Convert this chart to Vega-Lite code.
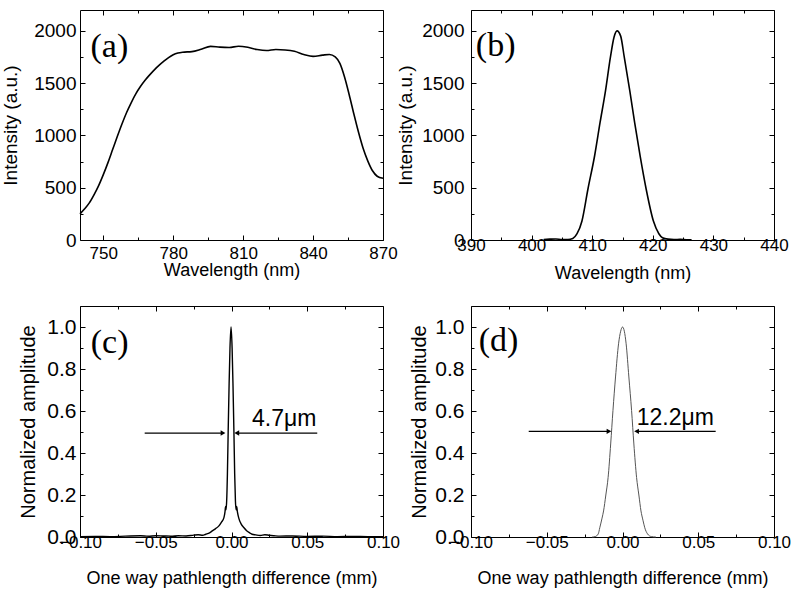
{
  "$schema": "https://vega.github.io/schema/vega-lite/v6.json",
  "padding": {"left": 0, "top": 9, "right": 5, "bottom": 0},
  "background": "white",
  "columns": 2,
  "spacing": {"row": 66, "column": 88},
  "bounds": "flush",
  "datasets": {
    "a": [
      {"x": 740, "y": 250}, {"x": 742, "y": 298}, {"x": 744, "y": 355}, {"x": 746, "y": 432},
      {"x": 748, "y": 520}, {"x": 750, "y": 625}, {"x": 752, "y": 740}, {"x": 754, "y": 865},
      {"x": 756, "y": 990}, {"x": 758, "y": 1110}, {"x": 760, "y": 1220}, {"x": 762, "y": 1315},
      {"x": 764, "y": 1400}, {"x": 766, "y": 1470}, {"x": 768, "y": 1530}, {"x": 770, "y": 1582},
      {"x": 772, "y": 1630}, {"x": 774, "y": 1672}, {"x": 776, "y": 1710}, {"x": 778, "y": 1745},
      {"x": 780, "y": 1772}, {"x": 782, "y": 1788}, {"x": 784, "y": 1796}, {"x": 788, "y": 1802},
      {"x": 792, "y": 1825}, {"x": 796, "y": 1852}, {"x": 800, "y": 1845}, {"x": 804, "y": 1842},
      {"x": 808, "y": 1853}, {"x": 812, "y": 1843}, {"x": 816, "y": 1822}, {"x": 820, "y": 1812},
      {"x": 824, "y": 1822}, {"x": 828, "y": 1818}, {"x": 832, "y": 1805}, {"x": 836, "y": 1775},
      {"x": 840, "y": 1756}, {"x": 844, "y": 1768}, {"x": 847, "y": 1775}, {"x": 849.5, "y": 1752},
      {"x": 851.5, "y": 1690}, {"x": 853.5, "y": 1560}, {"x": 855.5, "y": 1390}, {"x": 857.5, "y": 1205},
      {"x": 859.5, "y": 1030}, {"x": 861.5, "y": 875}, {"x": 863.5, "y": 755}, {"x": 865.5, "y": 662},
      {"x": 867.5, "y": 610}, {"x": 870, "y": 590}
    ],
    "b": [
      {"x": 402, "y": 5}, {"x": 403, "y": 8}, {"x": 404, "y": 10}, {"x": 405, "y": 5}, {"x": 406, "y": 5},
      {"x": 406.8, "y": 15}, {"x": 407.5, "y": 60}, {"x": 408.3, "y": 180}, {"x": 409.3, "y": 488},
      {"x": 410.4, "y": 806}, {"x": 411.3, "y": 1124}, {"x": 412.2, "y": 1429}, {"x": 413, "y": 1746},
      {"x": 413.6, "y": 1940}, {"x": 414.1, "y": 2000}, {"x": 414.7, "y": 1950}, {"x": 415.3, "y": 1746},
      {"x": 416.2, "y": 1429}, {"x": 417, "y": 1124}, {"x": 417.9, "y": 806}, {"x": 418.9, "y": 488},
      {"x": 420.1, "y": 181}, {"x": 421, "y": 60}, {"x": 421.6, "y": 22}, {"x": 422.5, "y": 8},
      {"x": 423.5, "y": 5}, {"x": 424.5, "y": 6}, {"x": 425.5, "y": 3}, {"x": 426.4, "y": 2}
    ],
    "c": [
      {"x": -0.1, "y": 0.002}, {"x": -0.09, "y": 0.003}, {"x": -0.08, "y": 0.002}, {"x": -0.07, "y": 0.004},
      {"x": -0.06, "y": 0.006}, {"x": -0.055, "y": 0.004}, {"x": -0.05, "y": 0.006}, {"x": -0.045, "y": 0.005},
      {"x": -0.04, "y": 0.004}, {"x": -0.035, "y": 0.006}, {"x": -0.03, "y": 0.005}, {"x": -0.025, "y": 0.009},
      {"x": -0.022, "y": 0.011}, {"x": -0.019, "y": 0.008}, {"x": -0.017, "y": 0.013}, {"x": -0.0145, "y": 0.02},
      {"x": -0.0127, "y": 0.029}, {"x": -0.0105, "y": 0.04}, {"x": -0.0083, "y": 0.053}, {"x": -0.0065, "y": 0.072},
      {"x": -0.005, "y": 0.092}, {"x": -0.0043, "y": 0.12}, {"x": -0.0039, "y": 0.145}, {"x": -0.0036, "y": 0.13},
      {"x": -0.0032, "y": 0.17}, {"x": -0.0027, "y": 0.3}, {"x": -0.0022, "y": 0.5}, {"x": -0.0016, "y": 0.72},
      {"x": -0.001, "y": 0.9}, {"x": -0.0003, "y": 1.0}, {"x": 0.0004, "y": 0.9}, {"x": 0.001, "y": 0.72},
      {"x": 0.0016, "y": 0.5}, {"x": 0.0021, "y": 0.3}, {"x": 0.0026, "y": 0.17}, {"x": 0.003, "y": 0.13},
      {"x": 0.0034, "y": 0.145}, {"x": 0.0039, "y": 0.12}, {"x": 0.0048, "y": 0.09}, {"x": 0.0065, "y": 0.06},
      {"x": 0.0081, "y": 0.045}, {"x": 0.01, "y": 0.03}, {"x": 0.012, "y": 0.02}, {"x": 0.0136, "y": 0.013},
      {"x": 0.016, "y": 0.01}, {"x": 0.019, "y": 0.007}, {"x": 0.022, "y": 0.011}, {"x": 0.025, "y": 0.008},
      {"x": 0.028, "y": 0.006}, {"x": 0.032, "y": 0.004}, {"x": 0.04, "y": 0.005}, {"x": 0.05, "y": 0.003},
      {"x": 0.06, "y": 0.004}, {"x": 0.07, "y": 0.002}, {"x": 0.08, "y": 0.003}, {"x": 0.09, "y": 0.002},
      {"x": 0.1, "y": 0.002}
    ],
    "d": [
      {"x": -0.02, "y": 0}, {"x": -0.018, "y": 0.002}, {"x": -0.016, "y": 0.015}, {"x": -0.015, "y": 0.044},
      {"x": -0.0135, "y": 0.09}, {"x": -0.0125, "y": 0.124}, {"x": -0.011, "y": 0.2}, {"x": -0.0095, "y": 0.283},
      {"x": -0.0078, "y": 0.443}, {"x": -0.0063, "y": 0.602}, {"x": -0.0046, "y": 0.762}, {"x": -0.0026, "y": 0.92},
      {"x": -0.0012, "y": 0.98}, {"x": 0, "y": 1.0}, {"x": 0.0012, "y": 0.98}, {"x": 0.0024, "y": 0.92},
      {"x": 0.0042, "y": 0.762}, {"x": 0.006, "y": 0.602}, {"x": 0.0075, "y": 0.443}, {"x": 0.0093, "y": 0.283},
      {"x": 0.0108, "y": 0.2}, {"x": 0.0122, "y": 0.124}, {"x": 0.0135, "y": 0.08}, {"x": 0.0147, "y": 0.044},
      {"x": 0.0165, "y": 0.015}, {"x": 0.019, "y": 0.002}, {"x": 0.022, "y": 0}
    ],
    "arrc": [
      {"x": -0.0573, "x2": -0.0056, "y": 0.495, "h": -0.0056, "s": "triangle-right"},
      {"x": 0.0566, "x2": 0.0035, "y": 0.495, "h": 0.0035, "s": "triangle-left"}
    ],
    "arrd": [
      {"x": -0.0619, "x2": -0.0089, "y": 0.503, "h": -0.0089, "s": "triangle-right"},
      {"x": 0.0615, "x2": 0.0093, "y": 0.503, "h": 0.0093, "s": "triangle-left"}
    ]
  },
  "concat": [
    {
      "width": 303, "height": 230,
      "resolve": {"axis": {"x": "independent", "y": "independent"}},
      "layer": [
        {
          "data": {"name": "a"},
          "mark": {"type": "line", "color": "black", "strokeWidth": 1.6, "interpolate": "monotone"},
          "encoding": {
            "x": {"field": "x", "type": "quantitative", "scale": {"domain": [740, 870], "nice": false, "zero": false},
              "axis": {"orient": "bottom", "title": "Wavelength (nm)", "values": [750, 765, 780, 795, 810, 825, 840, 855, 870],
                "labelExpr": "datum.value % 30 === 0 ? datum.label : ''",
                "tickSize": {"condition": {"test": "datum.value % 30 === 0", "value": -5}, "value": -3},
                "labelPadding": 10.5, "titlePadding": -2}},
            "y": {"field": "y", "type": "quantitative", "scale": {"domain": [0, 2200], "nice": false},
              "axis": {"orient": "left", "title": "Intensity (a.u.)", "values": [0, 250, 500, 750, 1000, 1250, 1500, 1750, 2000],
                "labelExpr": "datum.value % 500 === 0 ? datum.label : ''", "format": "d",
                "tickSize": {"condition": {"test": "datum.value % 500 === 0", "value": -5}, "value": -3},
                "labelPadding": 9, "titlePadding": 13.5, "labelFontSize": 19, "titleFontSize": 19}}
          }
        },
        {
          "data": {"values": [{"x": 744.5, "y": 1850, "t": "(a)"}]},
          "mark": {"type": "text", "font": "Liberation Serif", "fontSize": 34, "align": "left", "baseline": "middle", "color": "black"},
          "encoding": {
            "text": {"field": "t"},
            "x": {"field": "x", "type": "quantitative", "scale": {"domain": [740, 870], "nice": false, "zero": false},
              "axis": {"orient": "top", "labels": false, "title": null, "values": [750, 765, 780, 795, 810, 825, 840, 855, 870],
                "tickSize": {"condition": {"test": "datum.value % 30 === 0", "value": -5}, "value": -3}}},
            "y": {"field": "y", "type": "quantitative", "scale": {"domain": [0, 2200], "nice": false},
              "axis": {"orient": "right", "labels": false, "title": null, "values": [0, 250, 500, 750, 1000, 1250, 1500, 1750, 2000],
                "tickSize": {"condition": {"test": "datum.value % 500 === 0", "value": -5}, "value": -3}}}
          }
        }
      ]
    },
    {
      "width": 303, "height": 230,
      "resolve": {"axis": {"x": "independent", "y": "independent"}},
      "layer": [
        {
          "data": {"name": "b"},
          "mark": {"type": "line", "color": "black", "strokeWidth": 1.6, "interpolate": "monotone"},
          "encoding": {
            "x": {"field": "x", "type": "quantitative", "scale": {"domain": [390, 440], "nice": false, "zero": false},
              "axis": {"orient": "bottom", "title": "Wavelength (nm)", "values": [390, 395, 400, 405, 410, 415, 420, 425, 430, 435, 440],
                "labelExpr": "datum.value % 10 === 0 ? datum.label : ''",
                "tickSize": {"condition": {"test": "datum.value % 10 === 0", "value": -5}, "value": -3},
                "labelPadding": 2, "titlePadding": 9}},
            "y": {"field": "y", "type": "quantitative", "scale": {"domain": [0, 2200], "nice": false},
              "axis": {"orient": "left", "title": "Intensity (a.u.)", "values": [0, 250, 500, 750, 1000, 1250, 1500, 1750, 2000],
                "labelExpr": "datum.value % 500 === 0 ? datum.label : ''", "format": "d",
                "tickSize": {"condition": {"test": "datum.value % 500 === 0", "value": -5}, "value": -3},
                "labelPadding": 12, "titlePadding": 6.5, "labelFontSize": 19, "titleFontSize": 19}}
          }
        },
        {
          "data": {"values": [{"x": 390.8, "y": 1855, "t": "(b)"}]},
          "mark": {"type": "text", "font": "Liberation Serif", "fontSize": 34, "align": "left", "baseline": "middle", "color": "black"},
          "encoding": {
            "text": {"field": "t"},
            "x": {"field": "x", "type": "quantitative", "scale": {"domain": [390, 440], "nice": false, "zero": false},
              "axis": {"orient": "top", "labels": false, "title": null, "values": [390, 395, 400, 405, 410, 415, 420, 425, 430, 435, 440],
                "tickSize": {"condition": {"test": "datum.value % 10 === 0", "value": -5}, "value": -3}}},
            "y": {"field": "y", "type": "quantitative", "scale": {"domain": [0, 2200], "nice": false},
              "axis": {"orient": "right", "labels": false, "title": null, "values": [0, 250, 500, 750, 1000, 1250, 1500, 1750, 2000],
                "tickSize": {"condition": {"test": "datum.value % 500 === 0", "value": -5}, "value": -3}}}
          }
        }
      ]
    },
    {
      "width": 303, "height": 231,
      "resolve": {"axis": {"x": "independent", "y": "independent"}},
      "layer": [
        {
          "data": {"name": "c"},
          "mark": {"type": "line", "color": "black", "strokeWidth": 1.4, "interpolate": "monotone"},
          "encoding": {
            "x": {"field": "x", "type": "quantitative", "scale": {"domain": [-0.1, 0.1], "nice": false, "zero": false},
              "axis": {"orient": "bottom", "title": "One way pathlength difference (mm)", "values": [-0.1, -0.075, -0.05, -0.025, 0, 0.025, 0.05, 0.075, 0.1],
                "format": ".2f", "labelExpr": "round(datum.value*1000) % 50 === 0 ? datum.label : ''",
                "tickSize": {"condition": {"test": "round(datum.value*1000) % 50 === 0", "value": -5}, "value": -3},
                "labelPadding": 2.5, "titlePadding": 17}},
            "y": {"field": "y", "type": "quantitative", "scale": {"domain": [0, 1.1], "nice": false},
              "axis": {"orient": "left", "title": "Normalized amplitude", "values": [0, 0.1, 0.2, 0.3, 0.4, 0.5, 0.6, 0.7, 0.8, 0.9, 1.0],
                "format": ".1f", "labelExpr": "round(datum.value*10) % 2 === 0 ? datum.label : ''",
                "tickSize": {"condition": {"test": "round(datum.value*10) % 2 === 0", "value": -5}, "value": -3},
                "labelPadding": 9, "titlePadding": 8, "labelFontSize": 21, "titleFontSize": 20}}
          }
        },
        {
          "data": {"values": [{"x": -0.0929, "y": 0.925, "t": "(c)"}]},
          "mark": {"type": "text", "font": "Liberation Serif", "fontSize": 34, "align": "left", "baseline": "middle", "color": "black"},
          "encoding": {
            "text": {"field": "t"},
            "x": {"field": "x", "type": "quantitative", "scale": {"domain": [-0.1, 0.1], "nice": false, "zero": false},
              "axis": {"orient": "top", "labels": false, "title": null, "values": [-0.1, -0.075, -0.05, -0.025, 0, 0.025, 0.05, 0.075, 0.1],
                "tickSize": {"condition": {"test": "round(datum.value*1000) % 50 === 0", "value": -5}, "value": -3}}},
            "y": {"field": "y", "type": "quantitative", "scale": {"domain": [0, 1.1], "nice": false},
              "axis": {"orient": "right", "labels": false, "title": null, "values": [0, 0.1, 0.2, 0.3, 0.4, 0.5, 0.6, 0.7, 0.8, 0.9, 1.0],
                "tickSize": {"condition": {"test": "round(datum.value*10) % 2 === 0", "value": -5}, "value": -3}}}
          }
        },
        {
          "data": {"name": "arrc"},
          "mark": {"type": "rule", "color": "black", "strokeWidth": 1.2},
          "encoding": {
            "x": {"field": "x", "type": "quantitative", "scale": {"domain": [-0.1, 0.1], "nice": false, "zero": false}, "axis": null},
            "x2": {"field": "x2"},
            "y": {"field": "y", "type": "quantitative", "scale": {"domain": [0, 1.1], "nice": false}, "axis": null}
          }
        },
        {
          "data": {"name": "arrc"},
          "mark": {"type": "point", "filled": true, "color": "black", "opacity": 1, "size": 30},
          "encoding": {
            "x": {"field": "h", "type": "quantitative", "scale": {"domain": [-0.1, 0.1], "nice": false, "zero": false}, "axis": null},
            "y": {"field": "y", "type": "quantitative", "scale": {"domain": [0, 1.1], "nice": false}, "axis": null},
            "shape": {"field": "s", "type": "nominal", "scale": null}
          }
        },
        {
          "data": {"values": [{"x": 0.0135, "y": 0.562, "t": "4.7μm"}]},
          "mark": {"type": "text", "fontSize": 23, "align": "left", "baseline": "middle", "color": "black", "font": "Liberation Sans"},
          "encoding": {
            "text": {"field": "t"},
            "x": {"field": "x", "type": "quantitative", "scale": {"domain": [-0.1, 0.1], "nice": false, "zero": false}, "axis": null},
            "y": {"field": "y", "type": "quantitative", "scale": {"domain": [0, 1.1], "nice": false}, "axis": null}
          }
        }
      ]
    },
    {
      "width": 303, "height": 231,
      "resolve": {"axis": {"x": "independent", "y": "independent"}},
      "layer": [
        {
          "data": {"name": "d"},
          "mark": {"type": "line", "color": "#555555", "strokeWidth": 1, "interpolate": "monotone"},
          "encoding": {
            "x": {"field": "x", "type": "quantitative", "scale": {"domain": [-0.1, 0.1], "nice": false, "zero": false},
              "axis": {"orient": "bottom", "title": "One way pathlength difference (mm)", "values": [-0.1, -0.075, -0.05, -0.025, 0, 0.025, 0.05, 0.075, 0.1],
                "format": ".2f", "labelExpr": "round(datum.value*1000) % 50 === 0 ? datum.label : ''",
                "tickSize": {"condition": {"test": "round(datum.value*1000) % 50 === 0", "value": -5}, "value": -3},
                "labelPadding": 2.5, "titlePadding": 17}},
            "y": {"field": "y", "type": "quantitative", "scale": {"domain": [0, 1.1], "nice": false},
              "axis": {"orient": "left", "title": "Normalized amplitude", "values": [0, 0.1, 0.2, 0.3, 0.4, 0.5, 0.6, 0.7, 0.8, 0.9, 1.0],
                "format": ".1f", "labelExpr": "round(datum.value*10) % 2 === 0 ? datum.label : ''",
                "tickSize": {"condition": {"test": "round(datum.value*10) % 2 === 0", "value": -5}, "value": -3},
                "labelPadding": 12, "titlePadding": 5, "labelFontSize": 21, "titleFontSize": 20}}
          }
        },
        {
          "data": {"values": [{"x": -0.0949, "y": 0.933, "t": "(d)"}]},
          "mark": {"type": "text", "font": "Liberation Serif", "fontSize": 34, "align": "left", "baseline": "middle", "color": "black"},
          "encoding": {
            "text": {"field": "t"},
            "x": {"field": "x", "type": "quantitative", "scale": {"domain": [-0.1, 0.1], "nice": false, "zero": false},
              "axis": {"orient": "top", "labels": false, "title": null, "values": [-0.1, -0.075, -0.05, -0.025, 0, 0.025, 0.05, 0.075, 0.1],
                "tickSize": {"condition": {"test": "round(datum.value*1000) % 50 === 0", "value": -5}, "value": -3}}},
            "y": {"field": "y", "type": "quantitative", "scale": {"domain": [0, 1.1], "nice": false},
              "axis": {"orient": "right", "labels": false, "title": null, "values": [0, 0.1, 0.2, 0.3, 0.4, 0.5, 0.6, 0.7, 0.8, 0.9, 1.0],
                "tickSize": {"condition": {"test": "round(datum.value*10) % 2 === 0", "value": -5}, "value": -3}}}
          }
        },
        {
          "data": {"name": "arrd"},
          "mark": {"type": "rule", "color": "black", "strokeWidth": 1.2},
          "encoding": {
            "x": {"field": "x", "type": "quantitative", "scale": {"domain": [-0.1, 0.1], "nice": false, "zero": false}, "axis": null},
            "x2": {"field": "x2"},
            "y": {"field": "y", "type": "quantitative", "scale": {"domain": [0, 1.1], "nice": false}, "axis": null}
          }
        },
        {
          "data": {"name": "arrd"},
          "mark": {"type": "point", "filled": true, "color": "black", "opacity": 1, "size": 30},
          "encoding": {
            "x": {"field": "h", "type": "quantitative", "scale": {"domain": [-0.1, 0.1], "nice": false, "zero": false}, "axis": null},
            "y": {"field": "y", "type": "quantitative", "scale": {"domain": [0, 1.1], "nice": false}, "axis": null},
            "shape": {"field": "s", "type": "nominal", "scale": null}
          }
        },
        {
          "data": {"values": [{"x": 0.0094, "y": 0.568, "t": "12.2μm"}]},
          "mark": {"type": "text", "fontSize": 23, "align": "left", "baseline": "middle", "color": "black", "font": "Liberation Sans"},
          "encoding": {
            "text": {"field": "t"},
            "x": {"field": "x", "type": "quantitative", "scale": {"domain": [-0.1, 0.1], "nice": false, "zero": false}, "axis": null},
            "y": {"field": "y", "type": "quantitative", "scale": {"domain": [0, 1.1], "nice": false}, "axis": null}
          }
        }
      ]
    }
  ],
  "config": {
    "view": {"stroke": "black", "strokeWidth": 1},
    "font": "Liberation Sans",
    "axis": {
      "domain": false, "grid": false, "ticks": true, "tickSize": -3, "tickWidth": 1, "tickColor": "black",
      "labelColor": "black", "titleColor": "black", "labelFont": "Liberation Sans", "titleFont": "Liberation Sans",
      "titleFontWeight": "normal", "labelFlush": false, "labelOverlap": false, "labelFontSize": 17, "titleFontSize": 18
    }
  }
}
